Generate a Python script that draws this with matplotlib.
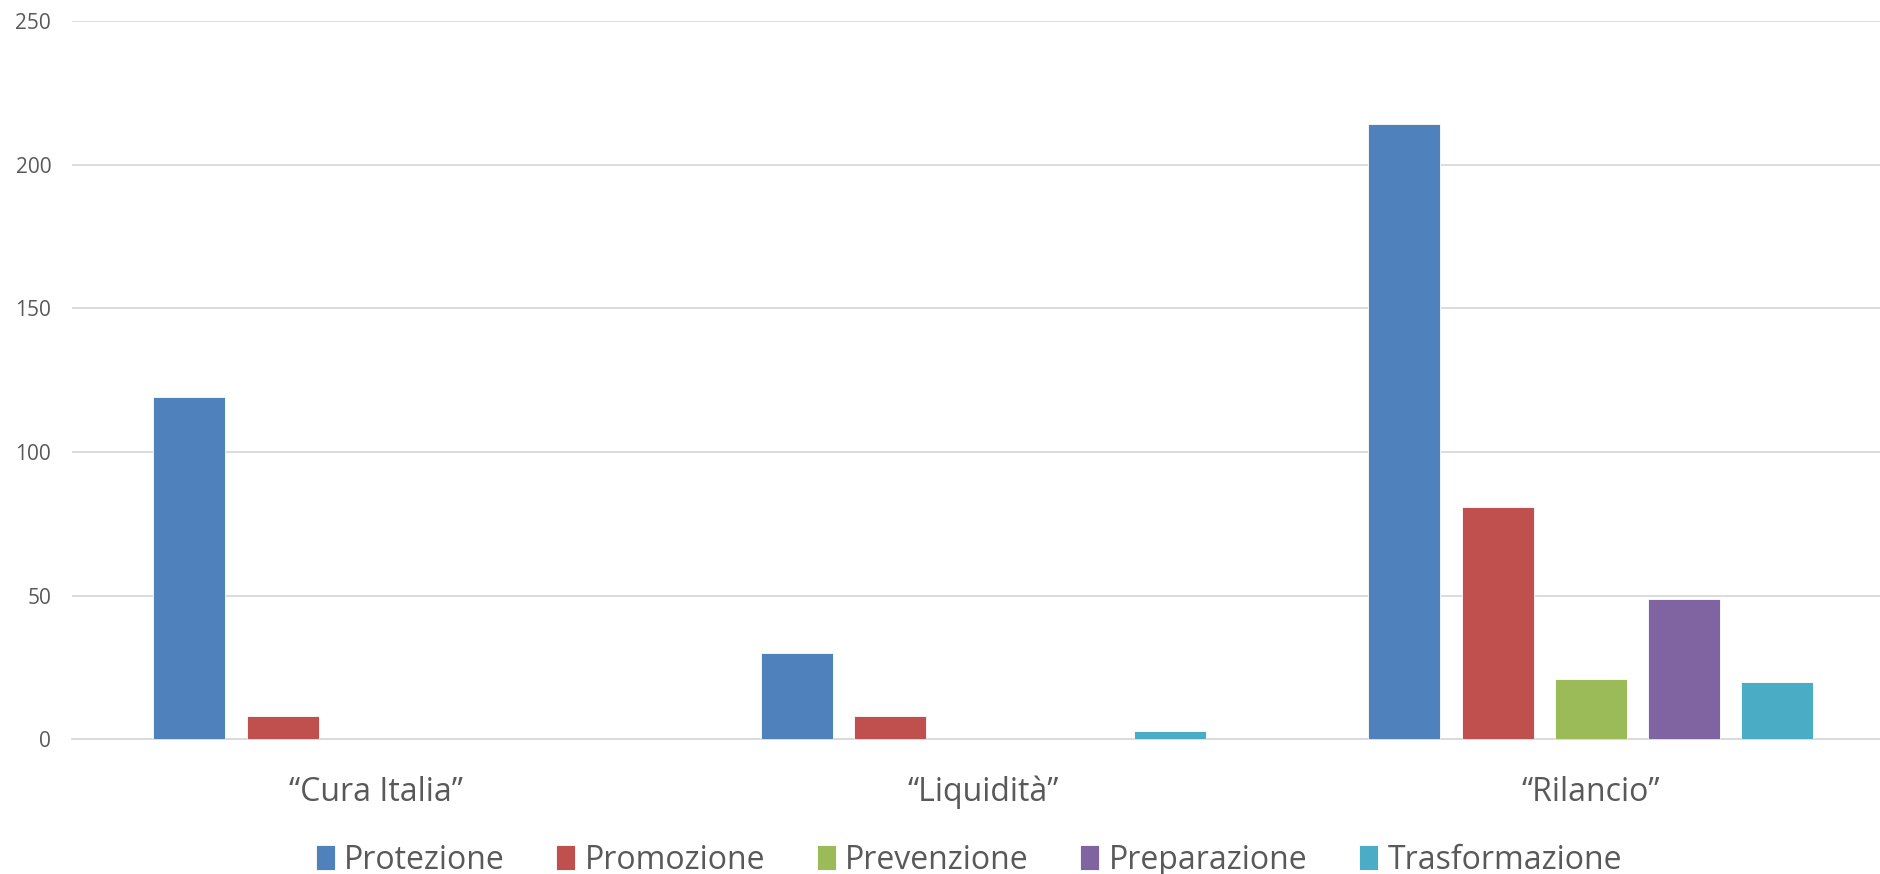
import matplotlib
matplotlib.use("Agg")
import matplotlib.pyplot as plt
import numpy as np

plt.rcParams["font.family"] = ["Open Sans", "DejaVu Sans"]

categories = ["\u201cCura Italia\u201d", "\u201cLiquidit\u00e0\u201d", "\u201cRilancio\u201d"]
series = ["Protezione", "Promozione", "Prevenzione", "Preparazione", "Trasformazione"]
protezione = [119, 30, 214]
promozione = [8, 8, 81]
prevenzione = [0, 0, 21]
preparazione = [0, 0, 49]
trasformazione = [0, 3, 20]
values = [protezione, promozione, prevenzione, preparazione, trasformazione]
colors = ["#4F81BD", "#C0504D", "#9BBB59", "#8064A2", "#4BACC6"]

fig = plt.figure(figsize=(18.81, 8.74), dpi=100)
# the plot area runs past the right edge, as in the cropped original
ax = fig.add_axes((0.0383, 0.154, 0.969, 0.822))

x = np.arange(len(categories))
pitch = 0.1535
width = 0.1185
for i, (name, vals, c) in enumerate(zip(series, values, colors)):
    ax.bar(x + (i - 2) * pitch, vals, width, color=c, label=name,
           edgecolor="white", linewidth=0.6, zorder=3)

ax.set_xlim(-0.5, 2.5)
ax.set_ylim(0, 250)
ax.set_yticks(range(0, 251, 50))
ax.yaxis.grid(True, color="#D9D9D9", lw=1.3, zorder=0)
ax.set_xticks(x)
ax.set_xticklabels(categories, fontsize=23, color="#595959")
ax.tick_params(axis="y", labelsize=15, colors="#595959", length=0, pad=15)
ax.tick_params(axis="x", length=0, pad=26)
for s in ("top", "right", "left"):
    ax.spines[s].set_visible(False)
ax.spines["bottom"].set_color("#D9D9D9")
ax.spines["bottom"].set_linewidth(1.3)

fig.legend(loc="lower center", bbox_to_anchor=(0.515, -0.036), ncol=5, frameon=False,
           fontsize=23, labelcolor="#595959", handlelength=0.6, handleheight=0.8,
           handletextpad=0.3, columnspacing=1.6)

fig.savefig("out.png", dpi=100)
